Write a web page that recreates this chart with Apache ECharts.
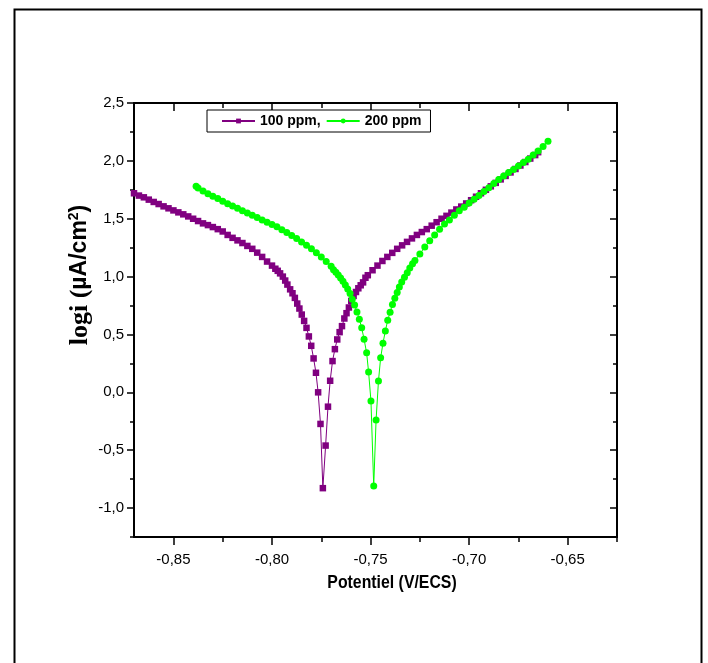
<!DOCTYPE html>
<html>
<head>
<meta charset="utf-8">
<script src="https://cdn.jsdelivr.net/npm/echarts@6/dist/echarts.min.js"></script>
<style>
html,body{margin:0;padding:0;background:#fff;}
#chart{width:708px;height:663px;}
</style>
</head>
<body>
<div id="chart"></div>
<script>
// ---- data: 100 ppm ----
var potential100 = [
-0.870,-0.8675,-0.865,-0.8625,-0.860,-0.8575,-0.855,-0.8525,-0.850,-0.8475,-0.845,-0.8425,-0.840,-0.8375,-0.835,-0.8325,-0.830,-0.8275,-0.825,-0.8225,-0.820,-0.8175,-0.815,-0.8125,-0.810,-0.8075,-0.805,-0.8025,-0.800,
-0.7983,-0.7971,-0.7959,-0.7945,-0.7933,-0.7922,-0.7908,-0.7896,-0.7884,-0.7872,-0.7861,-0.7849,-0.7837,-0.7825,-0.7813,-0.7801,-0.7789,-0.7777,-0.7766,-0.7754,-0.7742,
-0.7728,-0.7716,-0.7705,-0.7693,-0.7681,-0.7669,-0.7657,-0.7645,-0.7633,-0.7622,-0.7610,-0.7598,-0.7586,-0.7574,-0.7562,-0.7550,-0.7538,-0.7526,-0.7514,
-0.749,-0.7465,-0.744,-0.7415,-0.739,-0.7365,-0.734,-0.7315,-0.729,-0.7265,-0.724,-0.7215,-0.719,-0.7165,-0.714,-0.7115,-0.709,-0.7065,-0.704,-0.7015,-0.699,-0.6965,-0.694,-0.6915,-0.689,-0.6865,-0.684,-0.6815,-0.679,-0.6765,-0.674,-0.6715,-0.669,-0.6665,-0.665
];
var logi100 = [
1.72,1.70,1.685,1.665,1.645,1.627,1.607,1.59,1.572,1.555,1.538,1.52,1.50,1.48,1.46,1.445,1.428,1.41,1.39,1.36,1.335,1.313,1.29,1.265,1.24,1.207,1.17,1.13,1.095,
1.068,1.05,1.028,1.000,0.966,0.931,0.890,0.856,0.816,0.767,0.724,0.672,0.617,0.557,0.483,0.402,0.293,0.169,0.000,-0.273,-0.828,
-0.460,-0.124,0.100,0.270,0.373,0.457,0.520,0.572,0.638,0.684,0.733,0.790,0.833,0.867,0.899,0.925,0.950,0.99,1.012,
1.055,1.095,1.135,1.17,1.205,1.24,1.27,1.30,1.33,1.36,1.385,1.41,1.44,1.47,1.50,1.525,1.553,1.58,1.605,1.632,1.66,1.69,1.72,1.75,1.78,1.81,1.84,1.87,1.90,1.93,1.96,1.99,2.02,2.05,2.075
];
// ---- data: 200 ppm ----
var potential200 = [
-0.8385,-0.8375,-0.835,-0.8325,-0.830,-0.8275,-0.825,-0.8225,-0.820,-0.8175,-0.815,-0.8125,-0.810,-0.8075,-0.805,-0.8025,-0.800,-0.7975,-0.795,-0.7925,-0.790,-0.7875,-0.785,-0.7825,-0.780,-0.7775,-0.775,-0.7725,-0.770,
-0.7688,-0.7676,-0.7664,-0.7652,-0.7640,-0.7628,-0.7616,-0.7604,-0.7593,-0.7581,-0.7569,-0.7557,-0.7545,-0.7533,-0.7520,-0.7510,-0.7498,-0.7484,
-0.7472,-0.7460,-0.7449,-0.7437,-0.7425,-0.7413,-0.7401,-0.7389,-0.7377,-0.7365,-0.7354,-0.7342,-0.7328,-0.7314,-0.7301,-0.7287,
-0.7275,-0.725,-0.7225,-0.720,-0.7175,-0.715,-0.7125,-0.710,-0.7075,-0.705,-0.7025,-0.700,-0.6975,-0.695,-0.6925,-0.690,-0.6875,-0.685,-0.6825,-0.680,-0.6775,-0.675,-0.6725,-0.670,-0.6675,-0.665,-0.6625,-0.660
];
var logi200 = [
1.781,1.765,1.74,1.715,1.695,1.675,1.65,1.63,1.61,1.59,1.57,1.55,1.53,1.51,1.49,1.47,1.45,1.43,1.405,1.38,1.355,1.33,1.30,1.27,1.24,1.205,1.17,1.13,1.09,
1.060,1.037,1.013,0.988,0.960,0.928,0.893,0.853,0.804,0.755,0.695,0.632,0.557,0.459,0.341,0.175,-0.075,-0.810,
-0.239,0.097,0.298,0.425,0.531,0.623,0.692,0.759,0.813,0.862,0.910,0.953,0.994,1.034,1.074,1.112,
1.14,1.195,1.255,1.31,1.36,1.41,1.455,1.49,1.53,1.57,1.60,1.635,1.668,1.70,1.735,1.768,1.805,1.84,1.87,1.90,1.925,1.955,1.985,2.015,2.05,2.085,2.125,2.17
];
// ---- axis ticks ----
var xMajorTicks = [-0.85,-0.80,-0.75,-0.70,-0.65];
var xMinorTicks = [-0.825,-0.775,-0.725,-0.675,-0.625];
var yMajorTicks = [-1.0,-0.5,0.0,0.5,1.0,1.5,2.0,2.5];
var yMinorTicks = [-1.25,-0.75,-0.25,0.25,0.75,1.25,1.75,2.25];
var seriesNames = ['100 ppm,','200 ppm'];

function zip(a,b){var r=[];for(var i=0;i<a.length;i++){r.push([a[i],b[i]]);}return r;}

var X_MIN=-0.87, X_MAX=-0.625, Y_MIN=-1.25, Y_MAX=2.5;
function axLine(show){return {show:show,onZero:false,lineStyle:{color:'#000',width:2}};}
var lblFont={color:'#000',fontFamily:'Liberation Sans, Arial',fontSize:15};

function xAxisDef(pos, ticks, len, inside, labels){
  return {type:'value',min:X_MIN,max:X_MAX,position:pos,
    axisLine: axLine(labels!==null),
    splitLine:{show:false},
    axisTick:{show:true,customValues:ticks,length:len,inside:inside,lineStyle:{color:'#000',width:1.5}},
    axisLabel: labels ? Object.assign({show:true,customValues:ticks,margin:15,
       formatter:function(v){return v.toFixed(2).replace('.',',');}},lblFont) : {show:false}
  };
}
function yAxisDef(pos, ticks, len, inside, labels){
  return {type:'value',min:Y_MIN,max:Y_MAX,position:pos,
    axisLine: axLine(labels!==null),
    splitLine:{show:false},
    axisTick:{show:true,customValues:ticks,length:len,inside:inside,lineStyle:{color:'#000',width:1.5}},
    axisLabel: labels ? Object.assign({show:true,customValues:ticks,margin:10,
       formatter:function(v){return v.toFixed(1).replace('.',',');}},lblFont) : {show:false}
  };
}

var chart = echarts.init(document.getElementById('chart'), null, {renderer:'canvas'});
chart.setOption({
  animation:false,
  backgroundColor:'#fff',
  grid:{left:134,top:103,width:483,height:434,containLabel:false},
  xAxis:[
    xAxisDef('bottom', xMajorTicks, 8, false, true),
    xAxisDef('bottom', xMinorTicks, 5, false, null),
    xAxisDef('top', xMajorTicks, 8, true, false),
    xAxisDef('top', xMinorTicks, 5, true, null)
  ],
  yAxis:[
    yAxisDef('left', yMajorTicks, 7, false, true),
    yAxisDef('left', yMinorTicks, 4, false, null),
    yAxisDef('right', yMajorTicks, 7, true, false),
    yAxisDef('right', yMinorTicks, 4, true, null)
  ],
  legend:{
    left:207, top:110, orient:'horizontal',
    backgroundColor:'#fff', borderColor:'#000', borderWidth:1,
    padding:[4,9,4,14], itemGap:5, itemWidth:33, itemHeight:6,
    textStyle:{color:'#000',fontFamily:'Liberation Sans, Arial',fontWeight:'bold',fontSize:14},
    data:seriesNames
  },
  series:[
    {name:seriesNames[0],type:'line',xAxisIndex:0,yAxisIndex:0,data:zip(potential100,logi100),
     symbol:'rect',symbolSize:6.5,showAllSymbol:true,color:'#800080',
     itemStyle:{color:'#800080'},lineStyle:{color:'#800080',width:1},clip:true},
    {name:seriesNames[1],type:'line',xAxisIndex:0,yAxisIndex:0,data:zip(potential200,logi200),
     symbol:'circle',symbolSize:7,showAllSymbol:true,color:'#00ff00',
     itemStyle:{color:'#00ff00'},lineStyle:{color:'#00ff00',width:1},clip:true}
  ],
  graphic:[
    {type:'rect',left:12,top:7,shape:{x:0,y:0,width:687,height:700},
     style:{fill:'none',stroke:'#000',lineWidth:2},silent:true,z:-1},
    {type:'group',x:392,y:583,scaleX:0.88,children:[
      {type:'text',x:0,y:0,style:{text:'Potentiel (V/ECS)',fill:'#000',
        font:'bold 18px "Liberation Sans", Arial',textAlign:'center',textVerticalAlign:'middle'}}]},
    {type:'text',x:80,y:275,rotation:Math.PI/2,style:{
      text:'{t|logi (}{a|µA/cm}{s|2}{a|)}',textAlign:'center',textVerticalAlign:'middle',
      rich:{
        t:{fontFamily:'Liberation Serif, Times New Roman',fontWeight:'bold',fontSize:26,fill:'#000'},
        a:{fontFamily:'Liberation Sans, Arial',fontWeight:'bold',fontSize:23,fill:'#000'},
        s:{fontFamily:'Liberation Sans, Arial',fontWeight:'bold',fontSize:14,fill:'#000',verticalAlign:'top',padding:[0,0,10,0]}
      }}}
  ]
});
</script>
</body>
</html>
